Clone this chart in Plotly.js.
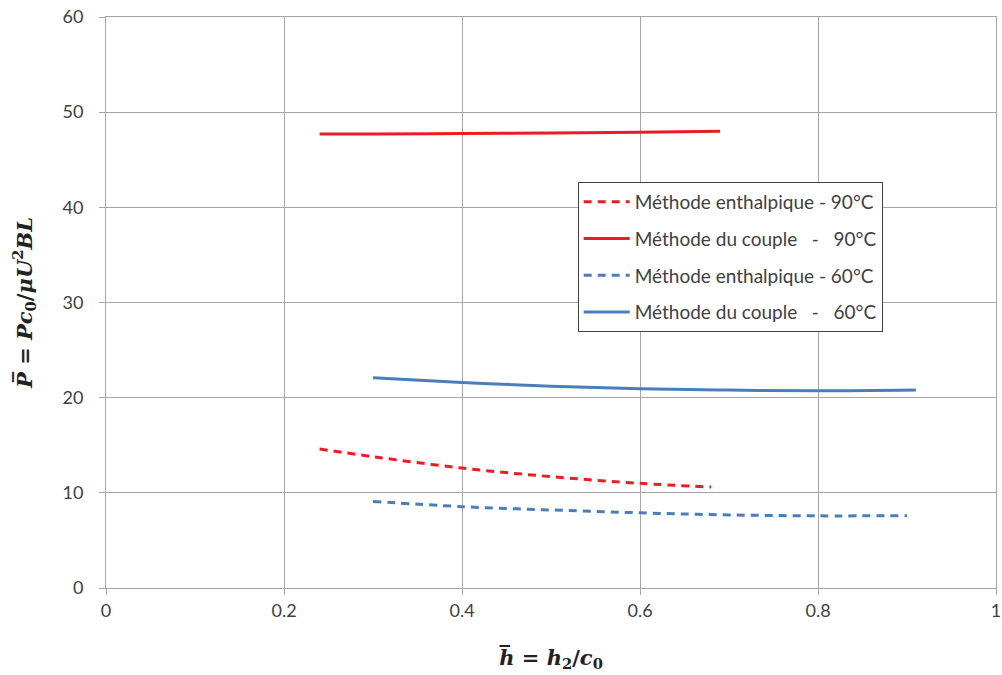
<!DOCTYPE html>
<html>
<head>
<meta charset="utf-8">
<script src="https://cdn.plot.ly/plotly-3.0.1.min.js"></script>
<style>html,body{margin:0;padding:0;background:#fff;}#chart{width:1002px;height:675px;}</style>
</head>
<body>
<div id="chart"></div>
<script>
// Data
const names = [
  "Méthode enthalpique - 90°C",
  "Méthode du couple   -   90°C",
  "Méthode enthalpique - 60°C",
  "Méthode du couple   -   60°C"
];
const xEnth90 = [0.24, 0.30, 0.40, 0.50, 0.60, 0.68];
const yEnth90 = [14.6, 13.8, 12.6, 11.7, 11.0, 10.6];
const xCouple90 = [0.24, 0.30, 0.40, 0.50, 0.60, 0.69];
const yCouple90 = [47.7, 47.7, 47.75, 47.8, 47.9, 48.0];
const xEnth60 = [0.30, 0.40, 0.50, 0.60, 0.70, 0.80, 0.90];
const yEnth60 = [9.1, 8.55, 8.2, 7.9, 7.68, 7.58, 7.6];
const xCouple60 = [0.30, 0.40, 0.50, 0.60, 0.70, 0.80, 0.91];
const yCouple60 = [22.1, 21.6, 21.2, 20.95, 20.8, 20.72, 20.8];
const xTicks = [0, 0.2, 0.4, 0.6, 0.8, 1];
const xTickText = ["0", "0.2", "0.4", "0.6", "0.8", "1"];
const yTicks = [0, 10, 20, 30, 40, 50, 60];

const red = "#ED1C24";
const blue = "#4A7EBB";

const traces = [
  {x: xEnth90, y: yEnth90, name: names[0], legendgroup: "a", mode: "lines", line: {color: red, width: 3, dash: "8px,6px", shape: "spline"}},
  {x: xCouple90, y: yCouple90, name: names[1], legendgroup: "b", mode: "lines", line: {color: red, width: 3, shape: "spline"}},
  {x: xEnth60, y: yEnth60, name: names[2], legendgroup: "c", mode: "lines", line: {color: blue, width: 3, dash: "8px,6px", shape: "spline"}},
  {x: xCouple60, y: yCouple60, name: names[3], legendgroup: "d", mode: "lines", line: {color: blue, width: 3, shape: "spline"}}
];

const gridCol = "#A6A6A6";
const txtFont = "Lato, 'Open Sans', sans-serif";
const layout = {
  width: 1002, height: 675,
  margin: {l: 106, r: 6, t: 17, b: 87},
  paper_bgcolor: "#fff", plot_bgcolor: "#fff",
  font: {family: txtFont, size: 18, color: "#404040"},
  showlegend: true,
  legend: {
    x: 0.530, y: 0.711, xanchor: "left", yanchor: "top",
    bgcolor: "#fff", bordercolor: "#404040", borderwidth: 1,
    font: {family: txtFont, size: 19, color: "#404040"},
    traceorder: "grouped", tracegroupgap: 9, itemwidth: 46
  },
  xaxis: {
    range: [0, 1], tickvals: xTicks, ticktext: xTickText,
    showgrid: true, gridcolor: gridCol, gridwidth: 1,
    showline: true, linecolor: gridCol, linewidth: 1, mirror: true,
    zeroline: false, ticks: "outside", ticklen: 6, tickcolor: gridCol, ticklabelstandoff: 0,
    tickfont: {family: txtFont, size: 18, color: "#404040"},
    title: {text: "<b><i>h̅</i> = <i>h</i><sub>2</sub>/<i>c</i><sub>0</sub></b>", standoff: 30,
            font: {family: "'DejaVu Serif', 'Liberation Serif', serif", size: 21, color: "#222"}}
  },
  yaxis: {
    range: [0, 60], tickvals: yTicks,
    showgrid: true, gridcolor: gridCol, gridwidth: 1,
    showline: true, linecolor: gridCol, linewidth: 1, mirror: true,
    zeroline: false, ticks: "outside", ticklen: 6, tickcolor: gridCol, ticklabelstandoff: 12,
    tickfont: {family: txtFont, size: 18, color: "#404040"},
    title: {text: "<b><i>P̅</i> = <i>Pc</i><sub>0</sub>/<i>μU</i><sup>2</sup><i>BL</i></b>", standoff: 24,
            font: {family: "'DejaVu Serif', 'Liberation Serif', serif", size: 21, color: "#222"}}
  }
};

Plotly.newPlot("chart", traces, layout, {displayModeBar: false, staticPlot: true});
</script>
</body>
</html>
